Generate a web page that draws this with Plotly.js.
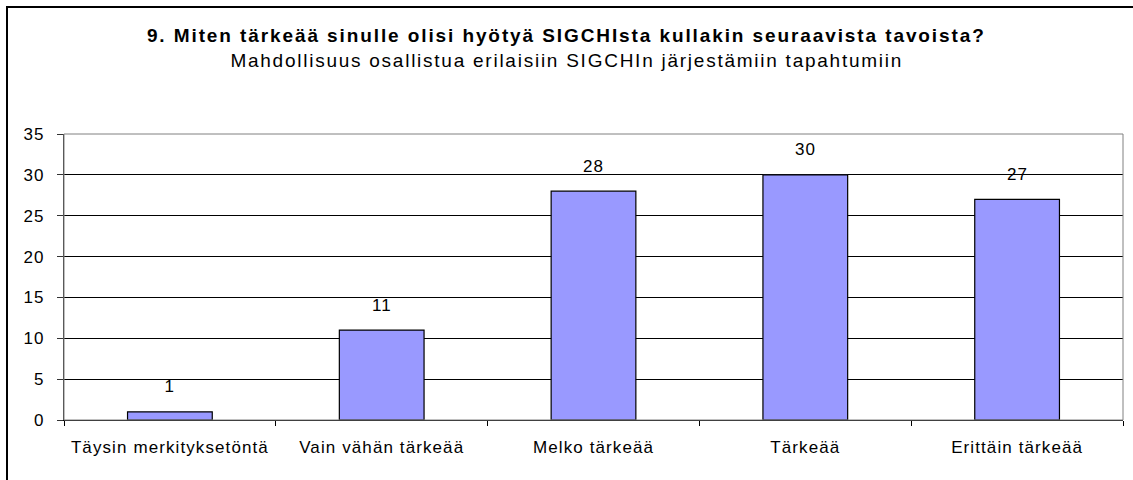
<!DOCTYPE html>
<html>
<head>
<meta charset="utf-8">
<script src="https://cdn.plot.ly/plotly-3.0.1.min.js"></script>
<style>
  html, body { margin: 0; padding: 0; background: #fff; }
  #wrap { position: relative; width: 1133px; height: 480px; overflow: hidden; }
  #chart { position: absolute; left: 0; top: 0; width: 1133px; height: 480px; }
  #frame { position: absolute; left: 6px; top: 6px; width: 2000px; height: 2000px;
           border-left: 2px solid #000; border-top: 2px solid #000; pointer-events: none; }
  #chart .xtick text, #chart .ytick text { letter-spacing: 1.1px; }
  #chart g.annotation text { letter-spacing: 1px; }
  #chart g.annotation[data-index="0"] text { letter-spacing: 1.9px; }
  #chart g.annotation[data-index="1"] text { letter-spacing: 1.75px; }
</style>
</head>
<body>
<div id="wrap">
  <div id="chart"></div>
  <div id="frame"></div>
</div>
<script>
const categories = ["Täysin merkityksetöntä", "Vain vähän tärkeää", "Melko tärkeää", "Tärkeää", "Erittäin tärkeää"];
const values = [1, 11, 28, 30, 27];
const yTicks = [0, 5, 10, 15, 20, 25, 30, 35];
const titleText = "9. Miten tärkeää sinulle olisi hyötyä SIGCHIsta kullakin seuraavista tavoista?";
const subtitleText = "Mahdollisuus osallistua erilaisiin SIGCHIn järjestämiin tapahtumiin";

const FONT = '"Liberation Sans", Arial, sans-serif';

const trace = {
  type: 'bar',
  x: categories,
  y: values,
  marker: { color: '#9999FF', line: { color: '#000000', width: 1.2 } },
  width: 0.4,
  hoverinfo: 'none'
};

const valueLabels = categories.map((c, i) => ({
  x: c, y: values[i], xref: 'x', yref: 'y',
  text: String(values[i]), showarrow: false,
  yanchor: 'middle', yshift: 25,
  font: { family: FONT, size: 17, color: '#000' }
}));

const layout = {
  width: 1133, height: 480,
  margin: { l: 64, r: 10, t: 134, b: 60 },
  paper_bgcolor: '#ffffff',
  plot_bgcolor: '#ffffff',
  showlegend: false,
  font: { family: FONT, size: 17, color: '#000' },
  xaxis: {
    type: 'category',
    showgrid: false,
    showline: true, linecolor: '#000', linewidth: 1,
    ticks: 'outside', tickson: 'boundaries', ticklen: 5, tickcolor: '#000', tickwidth: 1,
    tickfont: { family: FONT, size: 17, color: '#000' },
    ticklabelstandoff: 12,
    fixedrange: true
  },
  yaxis: {
    range: [0, 35],
    tickvals: yTicks,
    ticktext: yTicks.map(String),
    showgrid: true, gridcolor: '#000', gridwidth: 1,
    zeroline: false,
    showline: true, linecolor: '#333', linewidth: 1,
    ticks: 'outside', ticklen: 6, tickcolor: '#333', tickwidth: 1,
    tickfont: { family: FONT, size: 17, color: '#000' },
    ticklabelstandoff: 9,
    fixedrange: true
  },
  shapes: [{
    type: 'rect', xref: 'paper', yref: 'paper', x0: 0, x1: 1, y0: 0, y1: 1,
    line: { color: '#808080', width: 1 }, fillcolor: 'rgba(0,0,0,0)', layer: 'above'
  }],
  annotations: [
    {
      xref: 'paper', yref: 'paper', x: 0.4745, y: (420 - 36) / 286,
      text: '<b>' + titleText + '</b>', showarrow: false,
      xanchor: 'center', yanchor: 'middle',
      font: { family: FONT, size: 19, color: '#000' }
    },
    {
      xref: 'paper', yref: 'paper', x: 0.4745, y: (420 - 60) / 286,
      text: subtitleText, showarrow: false,
      xanchor: 'center', yanchor: 'middle',
      font: { family: FONT, size: 19, color: '#000' }
    }
  ].concat(valueLabels)
};

Plotly.newPlot('chart', [trace], layout, { displayModeBar: false, staticPlot: true });
</script>
</body>
</html>
